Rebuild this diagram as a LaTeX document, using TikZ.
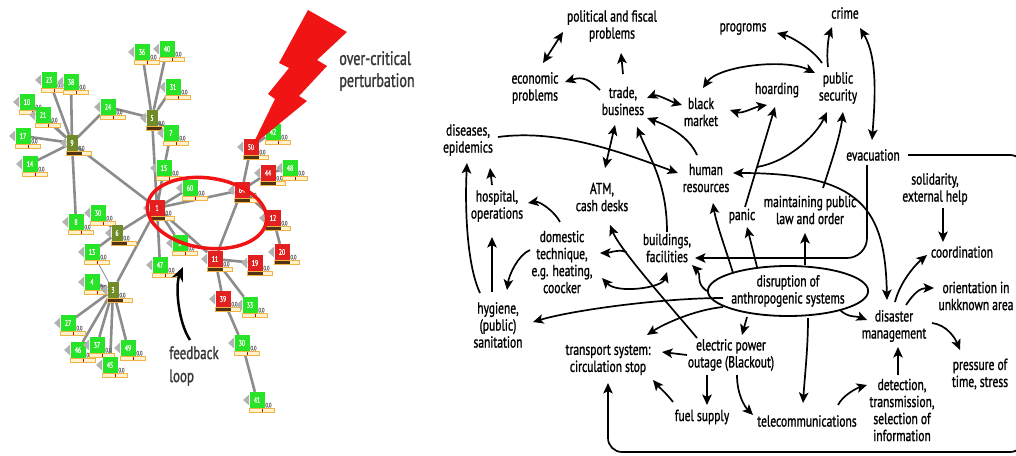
\documentclass[tikz,border=0pt]{standalone}
\usepackage{fontspec}
\setmainfont{PT Sans}[FakeStretch=0.72, FakeBold=1.2]
\usetikzlibrary{calc,arrows.meta,shapes.geometric,backgrounds}

\definecolor{cellgreen}{RGB}{40,228,40}
\definecolor{cellred}{RGB}{226,32,32}
\definecolor{cellolive}{RGB}{112,140,40}
\definecolor{barorange}{RGB}{240,180,70}
\definecolor{barfill}{RGB}{255,242,205}
\definecolor{barbrown}{RGB}{80,50,20}
\definecolor{edgegray}{RGB}{140,140,140}
\definecolor{boltred}{RGB}{240,20,20}
\definecolor{textgray}{RGB}{55,55,55}

\tikzset{
  concept/.style={align=center, inner sep=1pt, font=\fontsize{16}{17}\selectfont},
  arr/.style={line width=1.7pt, -{Stealth[length=10.5pt, width=9.5pt, inset=2.5pt]}},
  darr/.style={line width=1.7pt, {Stealth[length=10.5pt, width=9.5pt, inset=2.5pt]}-{Stealth[length=10.5pt, width=9.5pt, inset=2.5pt]}},
  link/.style={draw=edgegray, line width=2.6pt},
  celltag/.style={text=gray!80!black, font=\fontsize{6.5}{6.5}\selectfont, inner sep=0.5pt, anchor=south west},
  cellpointer/.style={anchor=east, minimum width=6pt, minimum height=11pt, inner sep=0pt,
    path picture={\fill[gray!60] (path picture bounding box.north east) -- (path picture bounding box.west) -- (path picture bounding box.south east) -- cycle;}},
  cellbar/.style={anchor=north west, draw=barorange, fill=barfill, line width=0.7pt, minimum width=25pt, minimum height=4pt, inner sep=0pt,
    path picture={\draw[red!80!black, line width=1pt] (path picture bounding box.north) -- (path picture bounding box.south);}},
  darkbar/.style={path picture={\fill[barbrown] (path picture bounding box.north west) rectangle ($(path picture bounding box.south west)!0.6!(path picture bounding box.south east)$);}},
  cell/.style={minimum width=15pt, minimum height=16pt, inner sep=0pt, text=white, font=\fontsize{8}{8}\selectfont,
    label={[celltag]south east:0.0}, label={[cellpointer]west:{}}},
  okcell/.style={cell, fill=cellgreen, label={[cellbar]south west:{}}},
  hitcell/.style={cell, fill=cellred, label={[cellbar, darkbar]south west:{}}},
  hubcell/.style={cell, fill=cellolive, minimum width=11pt, label={[cellbar, darkbar]south west:{}}},
}

\begin{document}
\begin{tikzpicture}[x=1pt, y=-1pt]
  \useasboundingbox (0,0) rectangle (1016,455);

  % network on the left
  \node[okcell] (c36) at (142,52) {36};
  \node[okcell] (c40) at (167,49) {40};
  \node[okcell] (c23) at (49,80) {23};
  \node[okcell] (c38) at (71,82) {38};
  \node[okcell] (c10) at (27,102) {10};
  \node[okcell] (c21) at (43,115) {21};
  \node[okcell] (c24) at (108,107) {24};
  \node[hubcell] (c5) at (152,118) {5};
  \node[okcell] (c31) at (173,87) {31};
  \node[okcell] (c17) at (23,136) {17};
  \node[hubcell] (c9) at (72,143) {9};
  \node[okcell] (c7) at (171,133) {7};
  \node[okcell] (c14) at (30,164) {14};
  \node[okcell] (c15) at (164,168) {15};
  \node[okcell] (c60) at (190,188) {60};
  \node[hitcell] (c1) at (157,208) {1};
  \node[okcell] (c8) at (76,222) {8};
  \node[okcell] (c30) at (98,213) {30};
  \node[hubcell] (c6) at (117,233) {6};
  \node[okcell] (c13) at (92,252) {13};
  \node[okcell] (c4) at (92,282) {4};
  \node[hubcell] (c3) at (113,290) {3};
  \node[okcell] (c47) at (160,265) {47};
  \node[okcell] (c27) at (68,323) {27};
  \node[okcell] (c46) at (78,350) {46};
  \node[okcell] (c37) at (97,345) {37};
  \node[okcell] (c49) at (128,348) {49};
  \node[okcell] (c45) at (110,365) {45};
  \node[okcell] (c2) at (180,243) {2};
  \node[hitcell] (c50) at (251,147) {50};
  \node[okcell] (c42) at (273,132) {42};
  \node[hitcell] (c44) at (268,173) {44};
  \node[okcell] (c48) at (290,168) {48};
  \node[hitcell] (c64) at (242,190) {64};
  \node[hitcell] (c12) at (273,218) {12};
  \node[hitcell] (c20) at (282,252) {20};
  \node[hitcell] (c19) at (255,263) {19};
  \node[hitcell] (c11) at (215,259) {11};
  \node[hitcell] (c39) at (223,299) {39};
  \node[okcell] (c33) at (250,305) {33};
  \node[okcell] (c29) at (242,343) {30};
  \node[okcell] (c41) at (257,400) {41};

  \begin{scope}[on background layer]
    \draw[link] (c9) -- (c23) (c9) -- (c38) (c9) -- (c10) (c9) -- (c21) (c9) -- (c17)
                (c9) -- (c14) (c9) -- (c24) (c9) -- (c8) (c9) -- (c1);
    \draw[link] (c5) -- (c36) (c5) -- (c40) (c5) -- (c31) (c5) -- (c24) (c5) -- (c7)
                (c7) -- (c15) (c5) -- (c1) (c15) -- (c1);
    \draw[link] (c1) -- (c60) (c1) -- (c64) (c1) -- (c6) (c1) -- (c3) (c1) -- (c47)
                (c1) -- (c2) (c1) -- (c11);
    \draw[link] (c6) -- (c30) (c6) -- (c13) (c3) -- (c4) (c3) -- (c27) (c3) -- (c46)
                (c3) -- (c37) (c3) -- (c49) (c3) -- (c45);
    \draw[link, line width=0.8pt] (c3) -- (c13);
    \draw[link] (c64) -- (c50) (c64) -- (c44) (c64) -- (c12) (c64) -- (c11) (c50) -- (c42)
                (c44) -- (c48) (c12) -- (c20) (c11) -- (c19) (c11) -- (c39) (c11) -- (c33)
                (c39) -- (c29) (c29) -- (c41);
  \end{scope}

  % lightning and the ring
  \fill[boltred] (308,10) -- (347,32) -- (317,60) -- (327,66) -- (299,96) -- (307,101)
    -- (252,146) -- (275,99) -- (268,94) -- (289,68) -- (279,63) -- cycle;
  \draw[boltred, line width=3.5pt, rotate around={-8:(207,213)}] (207,213) ellipse [x radius=60, y radius=35];
  \node[align=left, text=textgray, font=\fontsize{19.5}{22}\selectfont] (crit) at (377,71) {over-critical\\perturbation};
  \node[align=left, text=textgray, font=\fontsize{18}{23}\selectfont] (fb) at (194,366) {feedback\\loop};
  \draw[line width=2.5pt, -{Stealth[length=14pt, width=12pt]}] ($(fb)+(-4,-26)$)
    .. controls +(-12,-18) and +(-8,18) .. ($(fb)+(-11,-99)$);

  % concept map on the right
  \node[concept] (pol) at (612,26) {political and fiscal\\problems};
  \node[concept] (econ) at (535,88) {economic\\problems};
  \node[concept] (trade) at (623,101) {trade,\\business};
  \node[concept] (black) at (701,112) {black\\market};
  \node[concept] (progr) at (743,29) {progroms};
  \node[concept] (crime) at (845,13) {crime};
  \node[concept] (hoard) at (777,90) {hoarding};
  \node[concept] (pubsec) at (838,88) {public\\security};
  \node[concept] (dis) at (468,140) {diseases,\\epidemics};
  \node[concept] (human) at (706,178) {human\\resources};
  \node[concept] (atm) at (602,197) {ATM,\\cash desks};
  \node[concept] (hosp) at (497,206) {hospital,\\operations};
  \node[concept] (evac) at (873,155) {evacuation};
  \node[concept] (panic) at (742,216) {panic};
  \node[concept] (maint) at (810,210) {maintaining public\\law and order};
  \node[concept] (solid) at (935,189) {solidarity,\\external help};
  \node[concept] (dom) at (562,262) {domestic\\technique,\\e.g. heating,\\coocker};
  \node[concept] (build) at (667,248) {buildings,\\facilities};
  \node[concept] (coord) at (962,252) {coordination};
  \node[concept, ellipse, draw, line width=1.8pt, minimum width=136pt, minimum height=50pt, inner sep=0pt] (disr) at (788,291) {disruption of\\anthropogenic systems};
  \node[concept] (hyg) at (498,325) {hygiene,\\(public)\\sanitation};
  \node[concept] (orient) at (976,296) {orientation in\\unkknown area};
  \node[concept] (disas) at (894,326) {disaster\\management};
  \node[concept] (transp) at (608,360) {transport system:\\circulation stop};
  \node[concept] (elec) at (731,355) {electric power\\outage (Blackout)};
  \node[concept] (press) at (980,374) {pressure of\\time, stress};
  \node[concept] (fuel) at (702,417) {fuel supply};
  \node[concept] (tele) at (807,421) {telecommunications};
  \node[concept] (detect) at (902,410) {detection,\\transmission,\\selection of\\information};

  \draw[darr] ($(econ)+(8,-25)$) -- ($(pol)+(-49,6)$);
  \draw[arr] ($(trade)+(0,-27)$) -- ($(pol)+(9,27)$);
  \draw[arr] ($(trade)+(-23,-11)$) .. controls +(-10,-10) and +(18,-6) .. ($(econ)+(30,-6)$);
  \draw[darr] ($(trade)+(24,-3)$) .. controls +(10,-4) and +(-10,-3) .. ($(black)+(-19,-7)$);
  \draw[darr] ($(trade)+(-8,24)$) -- ($(atm)+(3,-29)$);
  \draw[arr] ($(human)+(-9,-23)$) .. controls +(-8,-18) and +(22,8) .. ($(trade)+(24,17)$);
  \draw[arr] ($(dis)+(30,-3)$) .. controls +(60,-8) and +(-60,-22) .. ($(human)+(-28,-5)$);
  \draw[arr] ($(build)+(0,-16)$) .. controls +(0,-50) and +(12,30) .. ($(trade)+(14,26)$);
  \draw[arr] ($(hyg)+(-18,-32)$) .. controls +(-14,-30) and +(-2,40) .. ($(dis)+(-1,23)$);
  \draw[arr] ($(hyg)+(-6,-33)$) -- ($(hosp)+(-5,31)$);
  \draw[arr] ($(hosp)+(-5,-21)$) -- ($(dis)+(22,28)$);
  \draw[arr] ($(dom)+(-2,-40)$) .. controls +(-5,-10) and +(12,-2) .. ($(hosp)+(31,-3)$);
  \draw[arr] ($(dom)+(-32,-12)$) .. controls +(-12,5) and +(2,-15) .. ($(hyg)+(9,-35)$);
  \draw[darr] ($(dom)+(40,16)$) .. controls +(15,16) and +(-5,16) .. ($(build)+(0,24)$);
  \draw[arr] ($(elec)+(-34,-17)$) .. controls +(-25,-30) and +(10,25) .. ($(atm)+(8,28)$) coordinate[pos=0.72] (fork);
  \draw[arr] (fork) .. controls +(-6,-4) and +(8,0) .. ($(dom)+(38,-9)$);
  \draw[arr] (disr.west) .. controls +(-12,-8) and +(10,10) .. ($(build)+(25,17)$);
  \draw[arr, rounded corners=20] ($(evac)+(-6,10)$) |- ($(build)+(28,10)$);
  \draw[arr] ($(disr)+(-55,-18)$) .. controls +(-6,-20) and +(3,20) .. ($(human)+(7,25)$);
  \draw[arr] ($(disr)+(-31,-24)$) -- ($(panic)+(5,11)$);
  \draw[arr] ($(disr)+(17,-26)$) -- ($(maint)+(-5,23)$);
  \draw[arr] ($(disr)+(-65,7)$) .. controls +(-60,0) and +(40,-12) .. ($(hyg)+(35,-3)$);
  \draw[arr] ($(disr)+(-65,16)$) .. controls +(-30,3) and +(15,-10) .. ($(transp)+(39,-25)$);
  \draw[arr] ($(disr)+(-41,26)$) -- ($(elec)+(11,-20)$);
  \draw[arr] ($(disr)+(20,27)$) .. controls +(0,30) and +(2,-30) .. ($(tele)+(-4,-18)$);
  \draw[arr] ($(disr)+(52,19)$) .. controls +(8,8) and +(-10,-4) .. ($(disas)+(-27,-6)$);
  \draw[arr] ($(elec)+(-44,0)$) -- ($(transp)+(54,-8)$);
  \draw[arr] ($(elec)+(-24,20)$) -- ($(fuel)+(5,-12)$);
  \draw[arr] ($(elec)+(6,20)$) .. controls +(0,20) and +(-8,-8) .. ($(tele)+(-54,-6)$);
  \draw[arr] ($(fuel)+(-29,-15)$) .. controls +(-6,-8) and +(5,6) .. ($(transp)+(45,20)$);
  \draw[arr] ($(tele)+(31,-16)$) .. controls +(5,-10) and +(-10,3) .. ($(detect)+(-35,-25)$);
  \draw[arr] ($(detect)+(-4,-35)$) -- ($(disas)+(4,21)$);
  \draw[arr] ($(disas)+(1,-24)$) .. controls +(5,-20) and +(-12,10) .. ($(coord)+(-35,3)$);
  \draw[arr] ($(disas)+(12,-21)$) .. controls +(8,-12) and +(-14,0) .. ($(orient)+(-42,-8)$);
  \draw[arr] ($(disas)+(38,-3)$) .. controls +(15,2) and +(-5,-12) .. ($(press)+(-20,-24)$);
  \draw[arr] ($(solid)+(8,19)$) -- ($(coord)+(-19,-10)$);
  \draw[darr] ($(human)+(27,-5)$) .. controls +(130,0) and +(-2,-90) .. ($(disas)+(-7,-26)$);
  \draw[arr, rounded corners=14] ($(evac)+(35,0)$) -- (1024,155) -- (1024,452) -| ($(transp)+(0,23)$);
  \draw[darr] ($(black)+(29,-2)$) .. controls +(12,4) and +(-12,2) .. ($(hoard)+(-10,15)$);
  \draw[darr] ($(black)+(2,-24)$) .. controls +(15,-22) and +(-30,-15) .. ($(pubsec)+(-23,-15)$);
  \draw[arr] ($(pubsec)+(-16,-25)$) .. controls +(-10,-15) and +(12,3) .. ($(progr)+(34,4)$);
  \draw[arr] ($(pubsec)+(-10,-21)$) .. controls +(-2,-15) and +(-3,8) .. ($(crime)+(-13,14)$);
  \draw[darr] ($(crime)+(15,15)$) .. controls +(18,30) and +(3,-40) .. ($(evac)+(-1,-15)$);
  \draw[arr] ($(panic)+(3,-9)$) -- ($(hoard)+(-2,17)$) coordinate[pos=0.4] (fork2);
  \draw[arr] (fork2) .. controls +(30,-5) and +(-12,25) .. ($(pubsec)+(-11,24)$);
  \draw[arr] ($(maint)+(13,-22)$) .. controls +(8,-25) and +(-3,25) .. ($(pubsec)+(5,24)$);
\end{tikzpicture}
\end{document}
